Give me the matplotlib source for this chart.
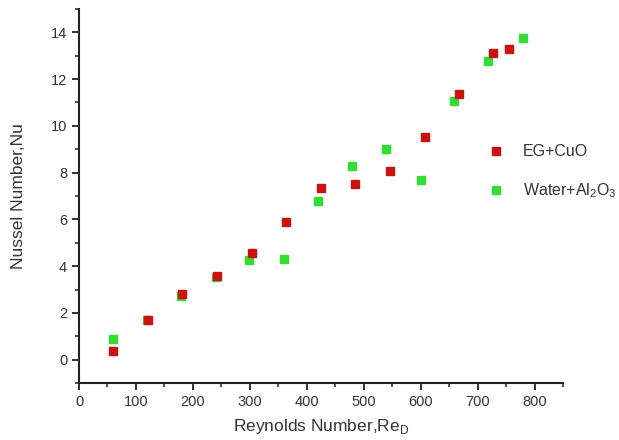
import matplotlib
matplotlib.use("Agg")
import matplotlib.pyplot as plt
from matplotlib.ticker import MultipleLocator

plt.rcParams["font.family"] = ["Liberation Sans", "DejaVu Sans"]

# EG+CuO
re_cuo = [60, 121, 181, 242, 304, 363, 425, 485, 546, 607, 667, 727, 755]
nu_cuo = [0.38, 1.7, 2.82, 3.56, 4.55, 5.9, 7.34, 7.51, 8.07, 9.52, 11.35, 13.13, 13.27]

# Water+Al2O3
re_al = [60, 120, 179, 240, 299, 360, 420, 479, 540, 600, 659, 719, 779]
nu_al = [0.9, 1.7, 2.73, 3.53, 4.25, 4.3, 6.77, 8.28, 9.0, 7.68, 11.07, 12.76, 13.77]

red = "#cc1111"
green = "#33dd33"

fig = plt.figure(figsize=(6.19, 4.40), dpi=100)
ax = fig.add_axes([79 / 619, 1 - 383 / 440, (563 - 79) / 619, (383 - 9) / 440])

ax.plot(re_al, nu_al, "s", color=green, markersize=6, linestyle="none",
        label="Water+Al$_\\mathregular{2}$O$_\\mathregular{3}$")
ax.plot(re_cuo, nu_cuo, "s", color=red, markersize=6, linestyle="none",
        label="EG+CuO")

ax.set_xlim(0, 850)
ax.set_ylim(-1, 15)
ax.xaxis.set_major_locator(MultipleLocator(100))
ax.xaxis.set_minor_locator(MultipleLocator(50))
ax.yaxis.set_major_locator(MultipleLocator(2))
ax.yaxis.set_minor_locator(MultipleLocator(1))
ax.set_yticks([0, 2, 4, 6, 8, 10, 12, 14])

for s in ["top", "right"]:
    ax.spines[s].set_visible(False)
for s in ["left", "bottom"]:
    ax.spines[s].set_linewidth(1.5)
    ax.spines[s].set_color("#222222")
ax.tick_params(which="major", direction="out", length=5, width=1.3,
               labelsize=10.5, colors="#222222", labelcolor="#333333")
ax.tick_params(which="minor", direction="out", length=3, width=1.1, colors="#222222")

ax.set_xlabel("Reynolds Number,Re$_\\mathregular{D}$", fontsize=12.5, color="#333333", labelpad=6)
ax.set_ylabel("Nussel Number,Nu", fontsize=12.5, color="#333333", labelpad=18)

handles, labels = ax.get_legend_handles_labels()
ax.legend(handles[::-1], labels[::-1], loc="upper left",
          bbox_to_anchor=((474 - 79) / 484, (383 - 130) / 374),
          frameon=False, fontsize=11.5, handletextpad=1.15, labelspacing=1.4,
          handlelength=1.0, labelcolor="#333333")

fig.savefig("out.png", dpi=100)
